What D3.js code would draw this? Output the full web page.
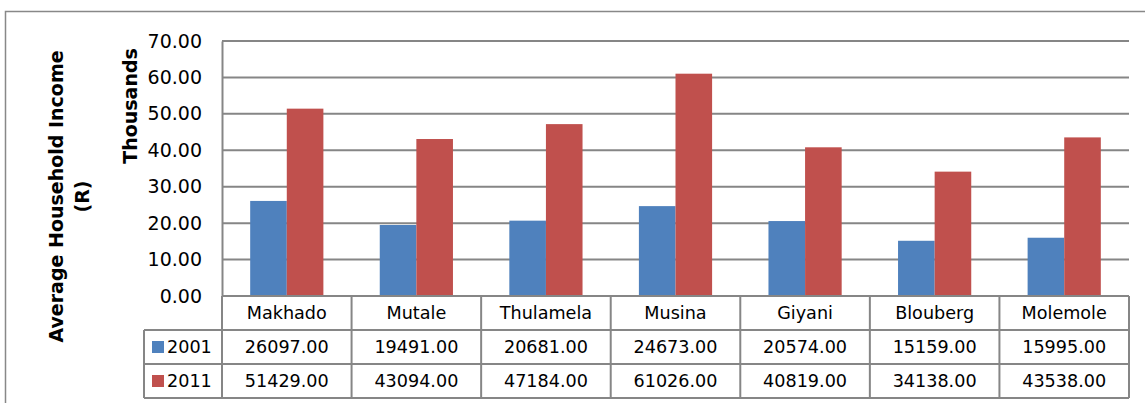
<!DOCTYPE html>
<html><head><meta charset="utf-8">
<script src="https://cdn.jsdelivr.net/npm/d3@7"></script>
<style>body{margin:0;background:#fff}svg{display:block}</style>
</head><body>
<script>
const categories = ["Makhado","Mutale","Thulamela","Musina","Giyani","Blouberg","Molemole"];
const seriesNames = ["2001","2011"];
const values2001 = [26097,19491,20681,24673,20574,15159,15995];
const values2011 = [51429,43094,47184,61026,40819,34138,43538];
const yTicks = [0,10,20,30,40,50,60,70];
const colors = ["#4F81BD","#C0504D"];

(function(){
const W=1145,H=403;
const svg=d3.select("body").append("svg").attr("width",W).attr("height",H);
const font="DejaVu Sans, Verdana, sans-serif";
const fs=17.6, afs=19;

svg.append("rect").attr("x",5.5).attr("y",11.5).attr("width",W+10).attr("height",H+10)
  .attr("fill","#fff").attr("stroke","#888").attr("stroke-width",1.5);

const pL=222,pR=1129,pT=41,pB=296;
const x=d3.scaleBand().domain(categories).range([pL,pR]);
const y=d3.scaleLinear().domain([0,70]).range([pB,pT]);
const xs=d3.scaleBand().domain(seriesNames).range([0,x.bandwidth()]).paddingInner(0).paddingOuter(0.77);

svg.append("g").selectAll("line").data(yTicks.filter(d=>d>0)).join("line")
  .attr("x1",pL).attr("x2",pR).attr("y1",d=>y(d)).attr("y2",d=>y(d))
  .attr("stroke","#868686").attr("stroke-width",2);

const series=[values2001,values2011];
series.forEach((vals,si)=>{
  svg.append("g").selectAll("rect").data(vals).join("rect")
    .attr("x",(d,i)=>x(categories[i])+xs(seriesNames[si]))
    .attr("width",xs.bandwidth())
    .attr("y",d=>y(d/1000)).attr("height",d=>y(0)-y(d/1000))
    .attr("fill",colors[si]);
});

const yAxis=d3.axisLeft(y).tickValues(yTicks).tickFormat(d3.format(".2f")).tickSize(0).tickPadding(20);
const ga=svg.append("g").attr("transform",`translate(${pL},0)`).call(yAxis);
ga.select(".domain").attr("stroke","#868686").attr("stroke-width",2);
ga.selectAll("text").attr("font-family",font).attr("font-size",afs).attr("fill","#000");

const rowH=34, tLeft=144;
const rows=[pB,pB+rowH,pB+2*rowH,pB+3*rowH];
const tg=svg.append("g").attr("stroke","#868686").attr("stroke-width",2).attr("fill","none");
tg.append("line").attr("x1",pL).attr("x2",pR).attr("y1",rows[0]).attr("y2",rows[0]);
[1,2,3].forEach(r=>tg.append("line").attr("x1",tLeft).attr("x2",pR).attr("y1",rows[r]).attr("y2",rows[r]));
tg.append("line").attr("x1",tLeft).attr("x2",tLeft).attr("y1",rows[1]).attr("y2",rows[3]);
categories.forEach(c=>tg.append("line").attr("x1",x(c)).attr("x2",x(c)).attr("y1",rows[0]).attr("y2",rows[3]));
tg.append("line").attr("x1",pR).attr("x2",pR).attr("y1",rows[0]).attr("y2",rows[3]);

const txt=svg.append("g").attr("font-family",font).attr("font-size",fs).attr("fill","#000").attr("text-anchor","middle");
categories.forEach(c=>txt.append("text").attr("x",x(c)+x.bandwidth()/2).attr("y",(rows[0]+rows[1])/2).attr("dy","0.36em").text(c));
series.forEach((vals,si)=>{
  vals.forEach((v,i)=>txt.append("text").attr("x",x(categories[i])+x.bandwidth()/2).attr("y",(rows[si+1]+rows[si+2])/2).attr("dy","0.36em").text(d3.format(".2f")(v)));
  svg.append("rect").attr("x",152).attr("y",(rows[si+1]+rows[si+2])/2-6).attr("width",12).attr("height",12).attr("fill",colors[si]);
  svg.append("text").attr("x",167).attr("y",(rows[si+1]+rows[si+2])/2).attr("dy","0.36em")
    .attr("font-family",font).attr("font-size",fs).text(seriesNames[si]);
});

const t1=svg.append("text").attr("transform","translate(63,196.5) rotate(-90)")
  .attr("text-anchor","middle").attr("font-family",font).attr("font-size",19).attr("font-weight","bold");
t1.append("tspan").attr("x",0).attr("dy",0).text("Average Household Income");
t1.append("tspan").attr("x",0).attr("dy",25.5).text("(R)");
svg.append("text").attr("transform","translate(137,106) rotate(-90)")
  .attr("text-anchor","middle").attr("font-family",font).attr("font-size",19).attr("font-weight","bold").text("Thousands");
})();
</script>
</body></html>
